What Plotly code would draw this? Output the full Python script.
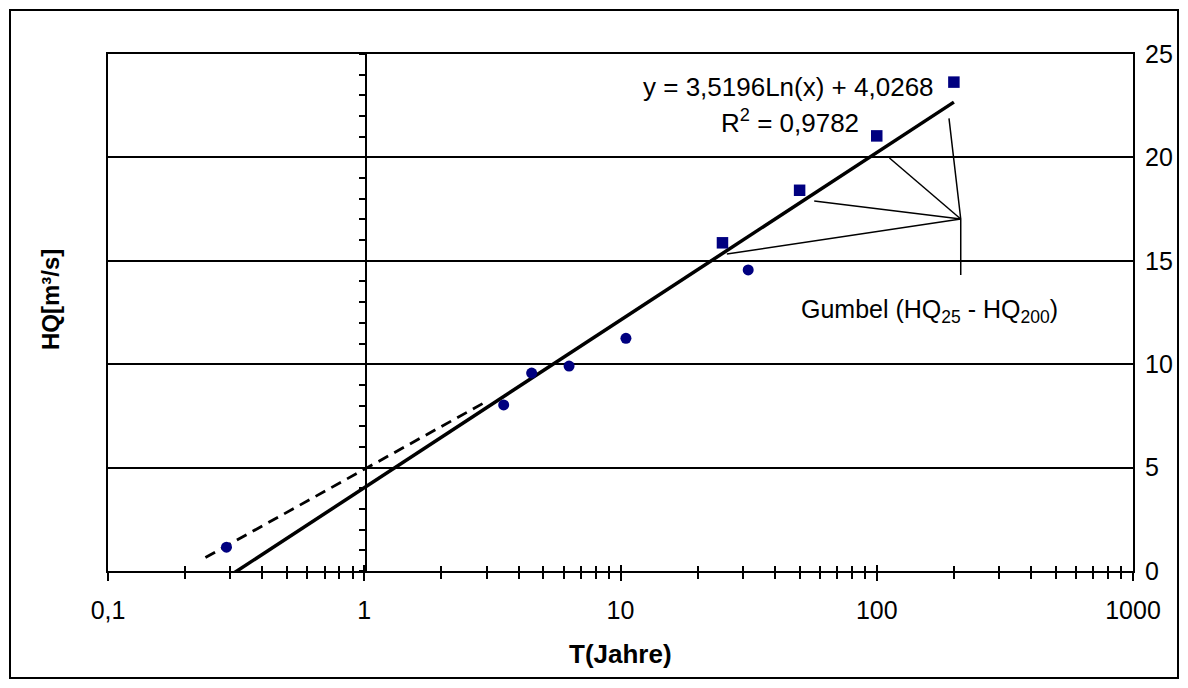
import plotly.graph_objects as go
import numpy as np

# ---------------- data ----------------
T_obs = [0.29, 3.5, 4.5, 6.3, 10.5, 31.5]          # observed (circles)
HQ_obs = [1.15, 8.03, 9.57, 9.91, 11.25, 14.56]

T_gumbel = [25, 50, 100, 200]                        # Gumbel HQ25..HQ200 (squares)
HQ_gumbel = [15.87, 18.41, 21.04, 23.64]

# logarithmic trendline  y = a*ln(x) + b
trend_a = 3.5196
trend_b = 4.0268
trend_T = [0.29, 200]

# dashed extension line
T_dash = [0.24, 3.0]
HQ_dash = [0.65, 8.2]

# Gumbel callout (hub and targets, data coordinates)
hub = (212.7, 17.02)
callout_stem = [(212.7, 14.31), (212.7, 17.02), (191.4, 21.89)]
callout_targets = [(112.1, 19.97), (57.0, 17.89), (26.0, 15.33)]

x_tickvals = [0.1, 1, 10, 100, 1000]
x_ticktext = ['0,1', '1', '10', '100', '1000']
x_minor = [k * 10.0 ** d for d in range(-1, 3) for k in range(2, 10)]

FONT = "Liberation Sans, Arial, sans-serif"
NAVY = "#000080"

# plot-area pixel geometry (for paper placement of texts)
W, H = 1188, 688
L, R, Tp, B = 108, 1133, 54, 571
pw, ph = R - L, B - Tp
def px(x): return (x - L) / pw
def py(y): return (B - y) / ph

fig = go.Figure()

# trendline
tx = np.array(trend_T, dtype=float)
ty = trend_a * np.log(tx) + trend_b
fig.add_trace(go.Scatter(x=tx, y=ty, mode='lines',
                         line=dict(color='black', width=3.5), hoverinfo='skip', showlegend=False))
# dashed line
fig.add_trace(go.Scatter(x=T_dash, y=HQ_dash, mode='lines',
                         line=dict(color='black', width=2.8, dash='11px,7px'),
                         hoverinfo='skip', showlegend=False))
# callout lines
cx = [p[0] for p in callout_stem]
cy = [p[1] for p in callout_stem]
for tx_, ty_ in callout_targets:
    cx += [None, hub[0], tx_]
    cy += [None, hub[1], ty_]
fig.add_trace(go.Scatter(x=cx, y=cy, mode='lines', line=dict(color='black', width=1.5),
                         hoverinfo='skip', showlegend=False))
# markers
fig.add_trace(go.Scatter(x=T_obs, y=HQ_obs, mode='markers',
                         marker=dict(symbol='circle', size=11, color=NAVY), showlegend=False))
fig.add_trace(go.Scatter(x=T_gumbel, y=HQ_gumbel, mode='markers',
                         marker=dict(symbol='square', size=11.5, color=NAVY), showlegend=False))

# dummy traces to activate overlay axes
fig.add_trace(go.Scatter(x=[None], y=[None], xaxis='x2', yaxis='y', showlegend=False, hoverinfo='skip'))
fig.add_trace(go.Scatter(x=[None], y=[None], xaxis='x', yaxis='y2', showlegend=False, hoverinfo='skip'))

tickfont = dict(family=FONT, size=25, color='black')

fig.update_layout(
    width=W, height=H,
    margin=dict(l=L, r=W - R, t=Tp, b=H - B, pad=0, autoexpand=False),
    paper_bgcolor='white', plot_bgcolor='white',
    showlegend=False,
    font=dict(family=FONT, color='black'),
    xaxis=dict(type='log', range=[-1, 3], tickmode='array', tickvals=x_tickvals, ticktext=x_ticktext,
               ticks='outside', ticklen=8, tickwidth=1.5, tickcolor='black',
               minor=dict(tickmode='array', tickvals=x_minor, ticks='outside', ticklen=6,
                          tickwidth=1.5, tickcolor='black', showgrid=False),
               showline=True, linewidth=2, linecolor='black', mirror=True, automargin=False,
               showgrid=False, zeroline=False, tickfont=tickfont, ticklabelstandoff=8),
    xaxis2=dict(type='log', range=[-1, 3], overlaying='x', anchor='y', side='bottom',
                tickmode='array', tickvals=x_tickvals, ticks='inside', ticklen=6, tickwidth=1.5,
                tickcolor='black', automargin=False,
                minor=dict(tickmode='array', tickvals=x_minor, ticks='inside', ticklen=5,
                           tickwidth=1.5, tickcolor='black', showgrid=False),
                showticklabels=False, showline=False, showgrid=False, zeroline=False),
    yaxis=dict(range=[0, 25], side='right', tickmode='linear', tick0=0, dtick=5,
               showgrid=True, gridcolor='black', gridwidth=1.5, automargin=False,
               showline=True, linewidth=2, linecolor='black', mirror=True,
               ticks='', zeroline=False, tickfont=tickfont, ticklabelstandoff=5),
    yaxis2=dict(range=[0, 25], overlaying='y', anchor='free', position=px(365.7), side='left',
                tickmode='linear', tick0=0, dtick=5, ticks='outside', ticklen=6, tickwidth=1.5,
                tickcolor='black', automargin=False,
                minor=dict(dtick=1, ticks='outside', ticklen=6, tickwidth=1.5, tickcolor='black',
                           showgrid=False),
                showline=True, linewidth=2, linecolor='black',
                showticklabels=False, showgrid=False, zeroline=False),
)

ann_font = dict(family=FONT, size=26, color='black')
fig.add_annotation(x=px(788.5), y=py(87), xref='paper', yref='paper',
                   text='y = 3,5196Ln(x) + 4,0268', showarrow=False, font=ann_font,
                   xanchor='center', yanchor='middle')
fig.add_annotation(x=px(790), y=py(121), xref='paper', yref='paper',
                   text='R<sup>2</sup> = 0,9782', showarrow=False, font=ann_font,
                   xanchor='center', yanchor='middle')
fig.add_annotation(x=px(799), y=py(311), xref='paper', yref='paper',
                   text='Gumbel (HQ<sub>25</sub> - HQ<sub>200</sub>)', showarrow=False,
                   font=dict(family=FONT, size=25, color='black'), xanchor='left', yanchor='middle')
fig.add_annotation(x=0.5, y=py(654), xref='paper', yref='paper',
                   text='<b>T(Jahre)</b>', showarrow=False,
                   font=dict(family=FONT, size=26, color='black'), xanchor='center', yanchor='middle')
fig.add_annotation(x=px(50), y=py(300), xref='paper', yref='paper',
                   text='<b>HQ[m³/s]</b>', showarrow=False, textangle=-90,
                   font=dict(family=FONT, size=24, color='black'), xanchor='center', yanchor='middle')

# outer chart border
fig.add_shape(type='rect', xref='paper', yref='paper',
              x0=px(10), x1=px(1178), y0=py(678), y1=py(10),
              line=dict(color='black', width=2), fillcolor='rgba(0,0,0,0)', layer='below')

fig.write_html("out.html")
